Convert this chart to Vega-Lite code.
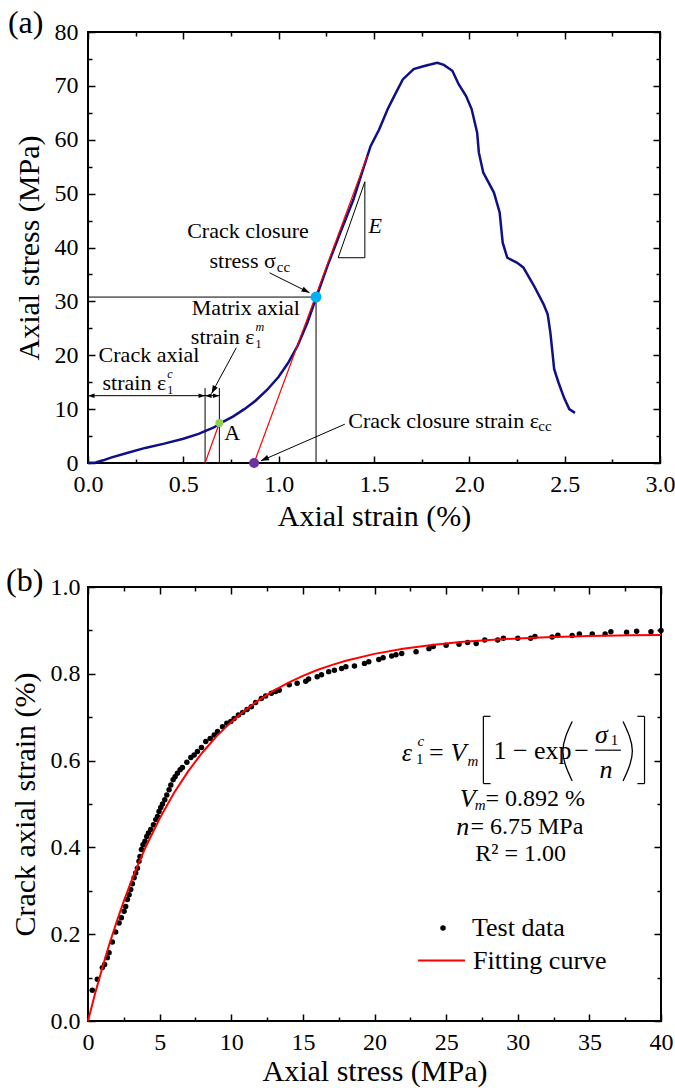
{
  "$schema": "https://vega.github.io/schema/vega-lite/v6.json",
  "padding": {"left": 5, "top": 5, "right": 5, "bottom": 5},
  "spacing": 31,
  "config": {
    "font": "Liberation Serif",
    "view": {"stroke": "black", "strokeWidth": 2},
    "style": {"guide-label": {"font": "Liberation Serif", "fill": "black"}, "guide-title": {"font": "Liberation Serif", "fill": "black"}},
    "axis": {"grid": false, "domain": false, "labelFont": "Liberation Serif", "labelFontSize": 24, "labelColor": "black", "titleFont": "Liberation Serif", "titleFontSize": 30, "titleFontWeight": "normal", "titleColor": "black", "tickColor": "black", "tickWidth": 1.5, "labelFlush": false, "labelOverlap": false},
    "legend": {"labelFont": "Liberation Serif", "labelColor": "black"},
    "text": {"font": "Liberation Serif", "color": "black"}
  },
  "datasets": {
    "curve": [
      {"x": 0, "y": 0}, {"x": 0.04, "y": 0.1}, {"x": 0.08, "y": 0.5}, {"x": 0.12, "y": 1.0}, {"x": 0.2, "y": 1.8}, {"x": 0.3, "y": 2.8}, {"x": 0.4, "y": 3.6}, {"x": 0.5, "y": 4.5}, {"x": 0.58, "y": 5.4}, {"x": 0.62, "y": 6.0}, {"x": 0.66, "y": 6.6}, {"x": 0.7, "y": 7.5}, {"x": 0.76, "y": 8.6}, {"x": 0.82, "y": 10.0}, {"x": 0.88, "y": 11.6}, {"x": 0.94, "y": 13.6}, {"x": 1.0, "y": 16.0}, {"x": 1.05, "y": 18.6}, {"x": 1.1, "y": 21.8}, {"x": 1.15, "y": 26.0}, {"x": 1.2, "y": 31.0}, {"x": 1.256, "y": 36.6}, {"x": 1.324, "y": 42.8}, {"x": 1.392, "y": 48.9}, {"x": 1.448, "y": 55.1}, {"x": 1.482, "y": 58.8}, {"x": 1.527, "y": 61.9}, {"x": 1.572, "y": 65.7}, {"x": 1.606, "y": 68.1}, {"x": 1.651, "y": 71.2}, {"x": 1.708, "y": 73.1}, {"x": 1.764, "y": 73.7}, {"x": 1.8, "y": 74.0}, {"x": 1.832, "y": 74.3}, {"x": 1.866, "y": 73.9}, {"x": 1.911, "y": 72.8}, {"x": 1.944, "y": 70.3}, {"x": 1.983, "y": 68.1}, {"x": 2.012, "y": 65.7}, {"x": 2.041, "y": 61.3}, {"x": 2.05, "y": 57.6}, {"x": 2.073, "y": 53.9}, {"x": 2.102, "y": 52.0}, {"x": 2.129, "y": 50.2}, {"x": 2.159, "y": 46.5}, {"x": 2.175, "y": 40.9}, {"x": 2.199, "y": 38.1}, {"x": 2.249, "y": 37.2}, {"x": 2.283, "y": 36.3}, {"x": 2.339, "y": 32.9}, {"x": 2.389, "y": 29.5}, {"x": 2.411, "y": 27.6}, {"x": 2.425, "y": 24.2}, {"x": 2.436, "y": 20.5}, {"x": 2.445, "y": 17.4}, {"x": 2.468, "y": 14.9}, {"x": 2.497, "y": 12.1}, {"x": 2.524, "y": 10.0}, {"x": 2.554, "y": 9.3}
    ],
    "blackLines": [
      {"x": 0, "y": 30.8, "x2": 1.196, "y2": 30.8},
      {"x": 1.196, "y": 0, "x2": 1.196, "y2": 30.8},
      {"x": 0.614, "y": 0, "x2": 0.614, "y2": 13.9},
      {"x": 0.689, "y": 0, "x2": 0.689, "y2": 13.9},
      {"x": 0, "y": 12.5, "x2": 0.689, "y2": 12.5},
      {"x": 0.778, "y": 21.4, "x2": 0.648, "y2": 12.9},
      {"x": 0.952, "y": 35.3, "x2": 1.162, "y2": 31.6},
      {"x": 1.347, "y": 7.2, "x2": 0.907, "y2": 0.4},
      {"x": 1.312, "y": 38.1, "x2": 1.452, "y2": 38.1},
      {"x": 1.452, "y": 38.1, "x2": 1.452, "y2": 52.2},
      {"x": 1.312, "y": 38.1, "x2": 1.452, "y2": 52.2}
    ],
    "redLines": [
      {"x": 0.614, "y": 0, "x2": 0.689, "y2": 7.42},
      {"x": 0.871, "y": 0, "x2": 1.465, "y2": 57.0}
    ],
    "fit": [
      {"x": 0, "y": 0}, {"x": 0.5, "y": 0.0637}, {"x": 1, "y": 0.1228}, {"x": 1.5, "y": 0.1778}, {"x": 2, "y": 0.2287}, {"x": 2.5, "y": 0.2761}, {"x": 3, "y": 0.32}, {"x": 3.5, "y": 0.3609}, {"x": 4, "y": 0.3988}, {"x": 5, "y": 0.4667}, {"x": 6, "y": 0.5253}, {"x": 7, "y": 0.5758}, {"x": 8, "y": 0.6193}, {"x": 9, "y": 0.6569}, {"x": 10, "y": 0.6892}, {"x": 11, "y": 0.7172}, {"x": 12, "y": 0.7412}, {"x": 13, "y": 0.762}, {"x": 14, "y": 0.7799}, {"x": 15, "y": 0.7953}, {"x": 16, "y": 0.8087}, {"x": 17, "y": 0.8201}, {"x": 18, "y": 0.83}, {"x": 20, "y": 0.8459}, {"x": 22, "y": 0.8577}, {"x": 24, "y": 0.8665}, {"x": 26, "y": 0.8731}, {"x": 28, "y": 0.8779}, {"x": 30, "y": 0.8815}, {"x": 32, "y": 0.8842}, {"x": 35, "y": 0.887}, {"x": 38, "y": 0.8888}, {"x": 40, "y": 0.8896}
    ],
    "test": [
      {"x": 0.3, "y": 0.071}, {"x": 0.65, "y": 0.096}, {"x": 1.0, "y": 0.123}, {"x": 1.16, "y": 0.13}, {"x": 1.35, "y": 0.146}, {"x": 1.47, "y": 0.157}, {"x": 1.7, "y": 0.182}, {"x": 1.93, "y": 0.205}, {"x": 2.17, "y": 0.226}, {"x": 2.33, "y": 0.238}, {"x": 2.52, "y": 0.253}, {"x": 2.63, "y": 0.264}, {"x": 2.75, "y": 0.28}, {"x": 2.87, "y": 0.291}, {"x": 2.98, "y": 0.303}, {"x": 3.1, "y": 0.316}, {"x": 3.22, "y": 0.33}, {"x": 3.33, "y": 0.341}, {"x": 3.45, "y": 0.352}, {"x": 3.56, "y": 0.368}, {"x": 3.63, "y": 0.379}, {"x": 3.73, "y": 0.395}, {"x": 3.84, "y": 0.406}, {"x": 3.98, "y": 0.414}, {"x": 4.1, "y": 0.425}, {"x": 4.22, "y": 0.433}, {"x": 4.38, "y": 0.441}, {"x": 4.57, "y": 0.452}, {"x": 4.73, "y": 0.464}, {"x": 4.85, "y": 0.471}, {"x": 4.96, "y": 0.483}, {"x": 5.08, "y": 0.492}, {"x": 5.2, "y": 0.5}, {"x": 5.36, "y": 0.51}, {"x": 5.5, "y": 0.521}, {"x": 5.66, "y": 0.533}, {"x": 5.78, "y": 0.544}, {"x": 5.94, "y": 0.556}, {"x": 6.08, "y": 0.563}, {"x": 6.24, "y": 0.571}, {"x": 6.43, "y": 0.579}, {"x": 6.59, "y": 0.584}, {"x": 6.9, "y": 0.596}, {"x": 7.18, "y": 0.607}, {"x": 7.41, "y": 0.613}, {"x": 7.64, "y": 0.621}, {"x": 7.92, "y": 0.63}, {"x": 8.22, "y": 0.644}, {"x": 8.53, "y": 0.651}, {"x": 8.81, "y": 0.659}, {"x": 9.04, "y": 0.667}, {"x": 9.39, "y": 0.678}, {"x": 9.69, "y": 0.686}, {"x": 9.97, "y": 0.69}, {"x": 10.2, "y": 0.697}, {"x": 10.5, "y": 0.705}, {"x": 10.8, "y": 0.711}, {"x": 11.1, "y": 0.718}, {"x": 11.4, "y": 0.724}, {"x": 11.7, "y": 0.734}, {"x": 12.1, "y": 0.743}, {"x": 12.4, "y": 0.749}, {"x": 12.8, "y": 0.755}, {"x": 13.1, "y": 0.759}, {"x": 13.35, "y": 0.762}, {"x": 14.05, "y": 0.775}, {"x": 14.6, "y": 0.778}, {"x": 15.2, "y": 0.783}, {"x": 15.4, "y": 0.788}, {"x": 16.0, "y": 0.793}, {"x": 16.3, "y": 0.798}, {"x": 16.8, "y": 0.805}, {"x": 17.2, "y": 0.808}, {"x": 17.7, "y": 0.812}, {"x": 18.0, "y": 0.816}, {"x": 18.6, "y": 0.818}, {"x": 19.3, "y": 0.824}, {"x": 19.6, "y": 0.828}, {"x": 20.3, "y": 0.833}, {"x": 20.6, "y": 0.837}, {"x": 21.2, "y": 0.841}, {"x": 21.5, "y": 0.844}, {"x": 21.9, "y": 0.847}, {"x": 22.9, "y": 0.851}, {"x": 23.8, "y": 0.858}, {"x": 24.1, "y": 0.863}, {"x": 25.0, "y": 0.866}, {"x": 25.9, "y": 0.868}, {"x": 26.5, "y": 0.872}, {"x": 27.1, "y": 0.87}, {"x": 27.7, "y": 0.878}, {"x": 28.6, "y": 0.878}, {"x": 29.0, "y": 0.882}, {"x": 30.0, "y": 0.882}, {"x": 30.9, "y": 0.882}, {"x": 31.2, "y": 0.886}, {"x": 32.4, "y": 0.885}, {"x": 32.8, "y": 0.889}, {"x": 33.8, "y": 0.888}, {"x": 34.3, "y": 0.892}, {"x": 35.2, "y": 0.892}, {"x": 36.1, "y": 0.892}, {"x": 36.5, "y": 0.897}, {"x": 37.6, "y": 0.896}, {"x": 38.3, "y": 0.898}, {"x": 39.3, "y": 0.897}, {"x": 40.0, "y": 0.9}
    ]
  },
  "vconcat": [
    {
      "width": 572,
      "height": 431,
      "resolve": {"axis": {"x": "independent", "y": "independent"}},
      "encoding": {
        "x": {"field": "x", "type": "quantitative", "scale": {"domain": [0, 3], "nice": false, "zero": false}, "axis": null},
        "y": {"field": "y", "type": "quantitative", "scale": {"domain": [0, 80], "nice": false, "zero": false}, "axis": null}
      },
      "layer": [
        {
          "data": {"name": "blackLines"},
          "mark": {"type": "rule", "color": "black", "strokeWidth": 1},
          "encoding": {
            "x": {"field": "x", "type": "quantitative", "scale": {"domain": [0, 3], "nice": false, "zero": false},
              "axis": {"orient": "top", "values": [0, 0.25, 0.5, 0.75, 1, 1.25, 1.5, 1.75, 2, 2.25, 2.5, 2.75, 3], "labels": false, "title": null,
                "tickSize": {"condition": {"test": "round(datum.value*4) % 2 === 0", "value": -7}, "value": -4}}},
            "y": {"field": "y", "type": "quantitative", "scale": {"domain": [0, 80], "nice": false, "zero": false},
              "axis": {"orient": "right", "values": [0, 5, 10, 15, 20, 25, 30, 35, 40, 45, 50, 55, 60, 65, 70, 75, 80], "labels": false, "title": null,
                "tickSize": {"condition": {"test": "datum.value % 10 === 0", "value": -7}, "value": -4}}},
            "x2": {"field": "x2"},
            "y2": {"field": "y2"}
          }
        },
        {
          "data": {"name": "curve"},
          "mark": {"type": "line", "color": "#0F0F86", "strokeWidth": 2.5},
          "encoding": {
            "x": {"field": "x", "type": "quantitative", "scale": {"domain": [0, 3], "nice": false, "zero": false},
              "axis": {"orient": "bottom", "values": [0, 0.25, 0.5, 0.75, 1, 1.25, 1.5, 1.75, 2, 2.25, 2.5, 2.75, 3],
                "labelExpr": "round(datum.value*4) % 2 === 0 ? format(datum.value, '.1f') : ''",
                "tickSize": {"condition": {"test": "round(datum.value*4) % 2 === 0", "value": -7}, "value": -4},
                "labelPadding": 16, "title": "Axial strain (%)", "titlePadding": 2}},
            "y": {"field": "y", "type": "quantitative", "scale": {"domain": [0, 80], "nice": false, "zero": false},
              "axis": {"orient": "left", "values": [0, 5, 10, 15, 20, 25, 30, 35, 40, 45, 50, 55, 60, 65, 70, 75, 80],
                "labelExpr": "datum.value % 10 === 0 ? '' + datum.value : ''",
                "tickSize": {"condition": {"test": "datum.value % 10 === 0", "value": -7}, "value": -4},
                "labelPadding": 17, "title": "Axial stress (MPa)", "titlePadding": 10}}
          }
        },
        {
          "data": {"name": "redLines"},
          "mark": {"type": "rule", "color": "#FF0000", "strokeWidth": 1.2},
          "encoding": {"x2": {"field": "x2"}, "y2": {"field": "y2"}}
        },
        {
          "data": {"values": [{"x": 0, "y": 12.5}, {"x": 0.614, "y": 12.5}]},
          "mark": {"type": "point", "shape": "M0,0L-2,-0.7L-2,0.7Z", "filled": true, "color": "black", "opacity": 1, "size": 42, "angle": 180},
          "encoding": {}
        },
        {
          "data": {"values": [{"x": 0.614, "y": 12.5}, {"x": 0.689, "y": 12.5}]},
          "mark": {"type": "point", "shape": "M0,0L-2,-0.7L-2,0.7Z", "filled": true, "color": "black", "opacity": 1, "size": 42, "angle": 0},
          "encoding": {}
        },
        {
          "data": {"values": [{"x": 0.648, "y": 12.9}]},
          "mark": {"type": "point", "shape": "M0,0L-2,-0.7L-2,0.7Z", "filled": true, "color": "black", "opacity": 1, "size": 64, "angle": 118},
          "encoding": {}
        },
        {
          "data": {"values": [{"x": 1.162, "y": 31.6}]},
          "mark": {"type": "point", "shape": "M0,0L-2,-0.7L-2,0.7Z", "filled": true, "color": "black", "opacity": 1, "size": 64, "angle": 27},
          "encoding": {}
        },
        {
          "data": {"values": [{"x": 0.907, "y": 0.4}]},
          "mark": {"type": "point", "shape": "M0,0L-2,-0.7L-2,0.7Z", "filled": true, "color": "black", "opacity": 1, "size": 64, "angle": 156},
          "encoding": {}
        },
        {
          "data": {"values": [{"x": 1.196, "y": 30.8}]},
          "mark": {"type": "point", "shape": "circle", "filled": true, "color": "#00B0F0", "opacity": 1, "size": 120},
          "encoding": {}
        },
        {
          "data": {"values": [{"x": 0.689, "y": 7.42}]},
          "mark": {"type": "point", "shape": "circle", "filled": true, "color": "#92D050", "opacity": 1, "size": 64},
          "encoding": {}
        },
        {
          "data": {"values": [{"x": 0.871, "y": 0}]},
          "mark": {"type": "point", "shape": "circle", "filled": true, "color": "#7030A0", "opacity": 1, "size": 100, "clip": false},
          "encoding": {}
        },
        {
          "data": {"values": [{"x": 0.839, "y": 43.1, "t": "Crack closure"}, {"x": 0.828, "y": 28.7, "t": "Matrix axial"}, {"x": 0.32, "y": 20.1, "t": "Crack axial"}]},
          "mark": {"type": "text", "fontSize": 22, "align": "center", "baseline": "middle"},
          "encoding": {"text": {"field": "t"}}
        },
        {
          "data": {"values": [{"x": 0.873, "y": 23.4, "t": "strain ε"}, {"x": 0.41, "y": 14.8, "t": "strain ε"}, {"x": 0.985, "y": 37.5, "t": "stress σ"}]},
          "mark": {"type": "text", "fontSize": 22, "align": "right", "baseline": "middle"},
          "encoding": {"text": {"field": "t"}}
        },
        {
          "data": {"values": [{"x": 0.715, "y": 5.6, "t": "A"}, {"x": 1.365, "y": 7.8, "t": "Crack closure strain ε"}]},
          "mark": {"type": "text", "fontSize": 22, "align": "left", "baseline": "middle"},
          "encoding": {"text": {"field": "t"}}
        },
        {
          "data": {"values": [{"x": 1.471, "y": 44.0, "t": "E"}]},
          "mark": {"type": "text", "fontSize": 22, "fontStyle": "italic", "align": "left", "baseline": "middle"},
          "encoding": {"text": {"field": "t"}}
        },
        {
          "data": {"values": [{"x": 0.878, "y": 25.2, "t": "m"}, {"x": 0.415, "y": 16.5, "t": "c"}]},
          "mark": {"type": "text", "fontSize": 12, "fontStyle": "italic", "align": "left", "baseline": "middle"},
          "encoding": {"text": {"field": "t"}}
        },
        {
          "data": {"values": [{"x": 0.878, "y": 22.1, "t": "1"}, {"x": 0.415, "y": 13.5, "t": "1"}]},
          "mark": {"type": "text", "fontSize": 12, "align": "left", "baseline": "middle"},
          "encoding": {"text": {"field": "t"}}
        },
        {
          "data": {"values": [{"x": 0.99, "y": 36.3, "t": "cc"}, {"x": 2.362, "y": 6.9, "t": "cc"}]},
          "mark": {"type": "text", "fontSize": 15, "align": "left", "baseline": "middle"},
          "encoding": {"text": {"field": "t"}}
        },
        {
          "data": {"values": [{"x": -0.42, "y": 79.9, "t": "(a)"}]},
          "mark": {"type": "text", "fontSize": 32, "align": "left", "baseline": "alphabetic"},
          "encoding": {"text": {"field": "t"}}
        }
      ]
    },
    {
      "width": 573,
      "height": 434,
      "resolve": {"axis": {"x": "independent", "y": "independent"}, "scale": {"color": "independent"}, "legend": {"color": "independent"}},
      "encoding": {
        "x": {"field": "x", "type": "quantitative", "scale": {"domain": [0, 40], "nice": false, "zero": false}, "axis": null},
        "y": {"field": "y", "type": "quantitative", "scale": {"domain": [0, 1], "nice": false, "zero": false}, "axis": null}
      },
      "layer": [
        {
          "data": {"name": "test"},
          "mark": {"type": "point", "shape": "circle", "filled": true, "opacity": 1, "size": 30},
          "encoding": {
            "x": {"field": "x", "type": "quantitative", "scale": {"domain": [0, 40], "nice": false, "zero": false},
              "axis": {"orient": "bottom", "values": [0, 2.5, 5, 7.5, 10, 12.5, 15, 17.5, 20, 22.5, 25, 27.5, 30, 32.5, 35, 37.5, 40],
                "labelExpr": "datum.value % 5 === 0 ? '' + datum.value : ''",
                "tickSize": {"condition": {"test": "datum.value % 5 === 0", "value": -7}, "value": -4},
                "labelPadding": 16, "title": "Axial stress (MPa)", "titlePadding": -1}},
            "y": {"field": "y", "type": "quantitative", "scale": {"domain": [0, 1], "nice": false, "zero": false},
              "axis": {"orient": "left", "values": [0, 0.1, 0.2, 0.3, 0.4, 0.5, 0.6, 0.7, 0.8, 0.9, 1],
                "labelExpr": "round(datum.value*10) % 2 === 0 ? format(datum.value, '.1f') : ''",
                "tickSize": {"condition": {"test": "round(datum.value*10) % 2 === 0", "value": -7}, "value": -4},
                "labelPadding": 15, "title": "Crack axial strain (%)", "titlePadding": 10}},
            "color": {"datum": "Test data", "type": "nominal", "scale": {"range": ["black"]},
              "legend": {"orient": "none", "legendX": 342, "legendY": 328, "padding": 0, "title": null, "labelFont": "Liberation Serif", "labelFontSize": 26, "labelColor": "black", "symbolSize": 30, "symbolType": "circle", "symbolStrokeWidth": 0, "labelOffset": 16}}
          }
        },
        {
          "data": {"name": "fit"},
          "mark": {"type": "line", "strokeWidth": 2},
          "encoding": {
            "x": {"field": "x", "type": "quantitative", "scale": {"domain": [0, 40], "nice": false, "zero": false},
              "axis": {"orient": "top", "values": [0, 2.5, 5, 7.5, 10, 12.5, 15, 17.5, 20, 22.5, 25, 27.5, 30, 32.5, 35, 37.5, 40], "labels": false, "title": null,
                "tickSize": {"condition": {"test": "datum.value % 5 === 0", "value": -7}, "value": -4}}},
            "y": {"field": "y", "type": "quantitative", "scale": {"domain": [0, 1], "nice": false, "zero": false},
              "axis": {"orient": "right", "values": [0, 0.1, 0.2, 0.3, 0.4, 0.5, 0.6, 0.7, 0.8, 0.9, 1], "labels": false, "title": null,
                "tickSize": {"condition": {"test": "round(datum.value*10) % 2 === 0", "value": -7}, "value": -4}}},
            "color": {"datum": "Fitting curve", "type": "nominal", "scale": {"range": ["#FF0000"]},
              "legend": {"orient": "none", "legendX": 329, "legendY": 349, "padding": 0, "title": null, "labelFont": "Liberation Serif", "labelFontSize": 26, "labelColor": "black", "symbolType": "stroke", "symbolSize": 2209, "symbolStrokeWidth": 2, "labelOffset": 7}}
          }
        },
        {
          "data": {"values": [
            {"x": 27.6, "y": 0.547, "x2": 27.6, "y2": 0.702}, {"x": 27.6, "y": 0.702, "x2": 28.1, "y2": 0.702}, {"x": 27.6, "y": 0.547, "x2": 28.1, "y2": 0.547},
            {"x": 38.85, "y": 0.547, "x2": 38.85, "y2": 0.702}, {"x": 38.35, "y": 0.702, "x2": 38.85, "y2": 0.702}, {"x": 38.35, "y": 0.547, "x2": 38.85, "y2": 0.547},
            {"x": 35.4, "y": 0.624, "x2": 37.2, "y2": 0.624}
          ]},
          "mark": {"type": "rule", "color": "black", "strokeWidth": 1.2},
          "encoding": {"x2": {"field": "x2"}, "y2": {"field": "y2"}}
        },
        {
          "data": {"values": [
            {"x": 33.8, "y": 0.69, "g": "l", "i": 0}, {"x": 33.15, "y": 0.622, "g": "l", "i": 1}, {"x": 33.8, "y": 0.553, "g": "l", "i": 2},
            {"x": 37.35, "y": 0.69, "g": "r", "i": 0}, {"x": 38.0, "y": 0.622, "g": "r", "i": 1}, {"x": 37.35, "y": 0.553, "g": "r", "i": 2}
          ]},
          "mark": {"type": "line", "color": "black", "strokeWidth": 1.3, "interpolate": "natural"},
          "encoding": {"detail": {"field": "g"}, "order": {"field": "i", "type": "quantitative"}}
        },
        {
          "data": {"values": [{"x": 21.9, "y": 0.617, "t": "ε"}, {"x": 25.3, "y": 0.617, "t": "V"}, {"x": 35.4, "y": 0.66, "t": "σ"}, {"x": 35.7, "y": 0.578, "t": "n"}, {"x": 25.95, "y": 0.512, "t": "V"}, {"x": 25.7, "y": 0.447, "t": "n"}]},
          "mark": {"type": "text", "fontSize": 26, "fontStyle": "italic", "align": "left", "baseline": "middle"},
          "encoding": {"text": {"field": "t"}}
        },
        {
          "data": {"values": [{"x": 23.8, "y": 0.617, "t": "="}, {"x": 28.3, "y": 0.621, "t": "1 − exp"}, {"x": 33.95, "y": 0.621, "t": "−"}]},
          "mark": {"type": "text", "fontSize": 26, "align": "left", "baseline": "middle"},
          "encoding": {"text": {"field": "t"}}
        },
        {
          "data": {"values": [{"x": 23.0, "y": 0.645, "t": "c"}, {"x": 26.5, "y": 0.6, "t": "m"}, {"x": 27.0, "y": 0.497, "t": "m"}]},
          "mark": {"type": "text", "fontSize": 15, "fontStyle": "italic", "align": "left", "baseline": "middle"},
          "encoding": {"text": {"field": "t"}}
        },
        {
          "data": {"values": [{"x": 22.9, "y": 0.603, "t": "1"}, {"x": 36.5, "y": 0.648, "t": "1"}]},
          "mark": {"type": "text", "fontSize": 15, "align": "left", "baseline": "middle"},
          "encoding": {"text": {"field": "t"}}
        },
        {
          "data": {"values": [{"x": 27.75, "y": 0.512, "t": "= 0.892 %"}, {"x": 26.7, "y": 0.447, "t": "= 6.75 MPa"}]},
          "mark": {"type": "text", "fontSize": 24, "align": "left", "baseline": "middle"},
          "encoding": {"text": {"field": "t"}}
        },
        {
          "data": {"values": [{"x": 30.2, "y": 0.385, "t": "R² = 1.00"}]},
          "mark": {"type": "text", "fontSize": 24, "align": "center", "baseline": "middle"},
          "encoding": {"text": {"field": "t"}}
        },
        {
          "data": {"values": [{"x": -5.72, "y": 0.991, "t": "(b)"}]},
          "mark": {"type": "text", "fontSize": 32, "align": "left", "baseline": "alphabetic"},
          "encoding": {"text": {"field": "t"}}
        }
      ]
    }
  ]
}
